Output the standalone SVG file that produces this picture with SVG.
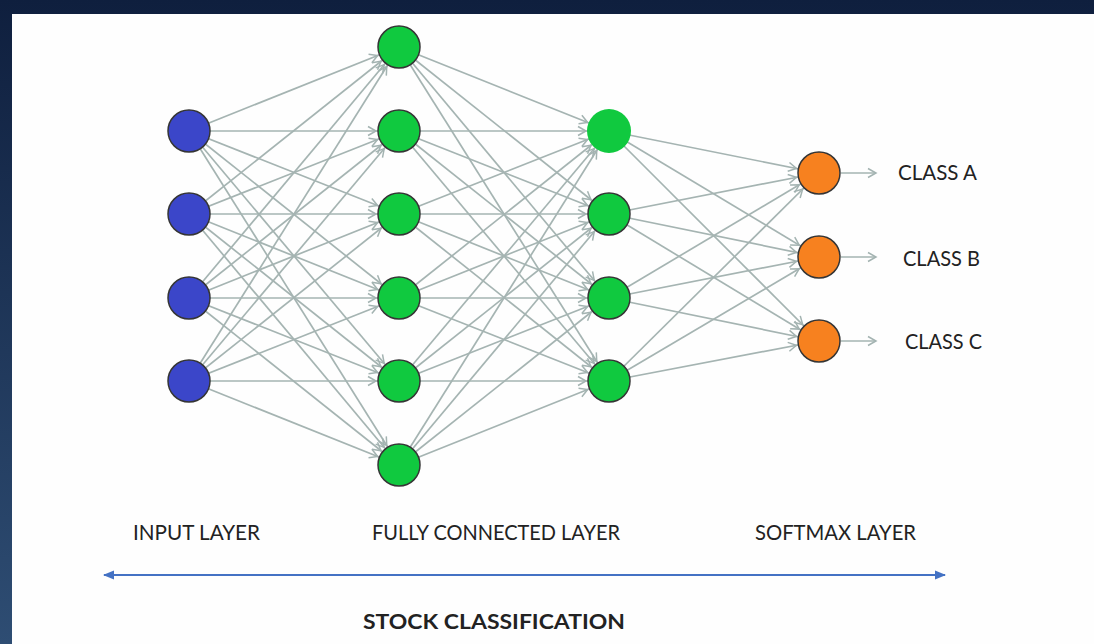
<svg xmlns="http://www.w3.org/2000/svg" width="1094" height="644" viewBox="0 0 1094 644">
<defs>
<linearGradient id="bg" x1="0" y1="0" x2="0" y2="1">
<stop offset="0" stop-color="#0f1f3e"/>
<stop offset="1" stop-color="#2e4d73"/>
</linearGradient>
<marker id="ah" markerUnits="userSpaceOnUse" markerWidth="40" markerHeight="20" refX="0" refY="0" orient="auto" style="overflow:visible">
<path d="M-31,-4.5 L-23,0 L-31,4.5" fill="none" stroke="#a3b3b1" stroke-width="1.5"/>
</marker>
<marker id="ah0" markerUnits="userSpaceOnUse" markerWidth="20" markerHeight="20" refX="0" refY="0" orient="auto" style="overflow:visible">
<path d="M-8,-4.5 L0,0 L-8,4.5" fill="none" stroke="#a3b3b1" stroke-width="1.5"/>
</marker>
<marker id="bh" markerUnits="userSpaceOnUse" markerWidth="20" markerHeight="20" refX="0" refY="0" orient="auto-start-reverse" style="overflow:visible">
<path d="M-10,-4.5 L1,0 L-10,4.5 Z" fill="#4472c4"/>
</marker>
<style>
.edge line{stroke:#a5b4b2;stroke-width:1.7;marker-end:url(#ah)}
.out line{stroke:#a5b4b2;stroke-width:1.7;marker-end:url(#ah0)}
.n{stroke:#353535;stroke-width:1.5}
.in{fill:#3b46c9}
.fc{fill:#10c93f}
.sm{fill:#f7811f}
.t{font-family:Lato,"Liberation Sans",sans-serif;font-size:21px;fill:#222}
</style>
</defs>
<rect width="1094" height="644" fill="url(#bg)"/>
<rect x="12" y="14" width="1082" height="630" fill="#fefefe"/>
<g id="connectors">
<g class="edge">
<line x1="189" y1="131" x2="399" y2="47"/><line x1="189" y1="131" x2="399" y2="131"/><line x1="189" y1="131" x2="399" y2="214"/><line x1="189" y1="131" x2="399" y2="298"/><line x1="189" y1="131" x2="399" y2="381"/><line x1="189" y1="131" x2="399" y2="465"/>
<line x1="189" y1="214" x2="399" y2="47"/><line x1="189" y1="214" x2="399" y2="131"/><line x1="189" y1="214" x2="399" y2="214"/><line x1="189" y1="214" x2="399" y2="298"/><line x1="189" y1="214" x2="399" y2="381"/><line x1="189" y1="214" x2="399" y2="465"/>
<line x1="189" y1="298" x2="399" y2="47"/><line x1="189" y1="298" x2="399" y2="131"/><line x1="189" y1="298" x2="399" y2="214"/><line x1="189" y1="298" x2="399" y2="298"/><line x1="189" y1="298" x2="399" y2="381"/><line x1="189" y1="298" x2="399" y2="465"/>
<line x1="189" y1="381" x2="399" y2="47"/><line x1="189" y1="381" x2="399" y2="131"/><line x1="189" y1="381" x2="399" y2="214"/><line x1="189" y1="381" x2="399" y2="298"/><line x1="189" y1="381" x2="399" y2="381"/><line x1="189" y1="381" x2="399" y2="465"/>
<line x1="399" y1="47" x2="609" y2="131"/><line x1="399" y1="47" x2="609" y2="214"/><line x1="399" y1="47" x2="609" y2="298"/><line x1="399" y1="47" x2="609" y2="381"/>
<line x1="399" y1="131" x2="609" y2="131"/><line x1="399" y1="131" x2="609" y2="214"/><line x1="399" y1="131" x2="609" y2="298"/><line x1="399" y1="131" x2="609" y2="381"/>
<line x1="399" y1="214" x2="609" y2="131"/><line x1="399" y1="214" x2="609" y2="214"/><line x1="399" y1="214" x2="609" y2="298"/><line x1="399" y1="214" x2="609" y2="381"/>
<line x1="399" y1="298" x2="609" y2="131"/><line x1="399" y1="298" x2="609" y2="214"/><line x1="399" y1="298" x2="609" y2="298"/><line x1="399" y1="298" x2="609" y2="381"/>
<line x1="399" y1="381" x2="609" y2="131"/><line x1="399" y1="381" x2="609" y2="214"/><line x1="399" y1="381" x2="609" y2="298"/><line x1="399" y1="381" x2="609" y2="381"/>
<line x1="399" y1="465" x2="609" y2="131"/><line x1="399" y1="465" x2="609" y2="214"/><line x1="399" y1="465" x2="609" y2="298"/><line x1="399" y1="465" x2="609" y2="381"/>
<line x1="609" y1="131" x2="819" y2="173"/><line x1="609" y1="131" x2="819" y2="257"/><line x1="609" y1="131" x2="819" y2="341"/>
<line x1="609" y1="214" x2="819" y2="173"/><line x1="609" y1="214" x2="819" y2="257"/><line x1="609" y1="214" x2="819" y2="341"/>
<line x1="609" y1="298" x2="819" y2="173"/><line x1="609" y1="298" x2="819" y2="257"/><line x1="609" y1="298" x2="819" y2="341"/>
<line x1="609" y1="381" x2="819" y2="173"/><line x1="609" y1="381" x2="819" y2="257"/><line x1="609" y1="381" x2="819" y2="341"/>
</g>
<g class="out">
<line x1="841" y1="173" x2="876" y2="173"/>
<line x1="841" y1="257" x2="876" y2="257"/>
<line x1="841" y1="341" x2="876" y2="341"/>
</g>
<line x1="104" y1="575" x2="945" y2="575" stroke="#4472c4" stroke-width="2.2" marker-start="url(#bh)" marker-end="url(#bh)"/>
</g>
<g id="input-1"><circle class="n in" cx="189" cy="131" r="21"/></g>
<g id="input-2"><circle class="n in" cx="189" cy="214" r="21"/></g>
<g id="input-3"><circle class="n in" cx="189" cy="298" r="21"/></g>
<g id="input-4"><circle class="n in" cx="189" cy="381" r="21"/></g>
<g id="fc1-1"><circle class="n fc" cx="399" cy="47" r="21"/></g>
<g id="fc1-2"><circle class="n fc" cx="399" cy="131" r="21"/></g>
<g id="fc1-3"><circle class="n fc" cx="399" cy="214" r="21"/></g>
<g id="fc1-4"><circle class="n fc" cx="399" cy="298" r="21"/></g>
<g id="fc1-5"><circle class="n fc" cx="399" cy="381" r="21"/></g>
<g id="fc1-6"><circle class="n fc" cx="399" cy="465" r="21"/></g>
<g id="fc2-1"><circle class="fc" cx="609" cy="131" r="22"/></g>
<g id="fc2-2"><circle class="n fc" cx="609" cy="214" r="21"/></g>
<g id="fc2-3"><circle class="n fc" cx="609" cy="298" r="21"/></g>
<g id="fc2-4"><circle class="n fc" cx="609" cy="381" r="21"/></g>
<g id="class-a"><circle class="n sm" cx="819" cy="173" r="21"/><text class="t" x="898" y="180" textLength="79" lengthAdjust="spacingAndGlyphs">CLASS A</text></g>
<g id="class-b"><circle class="n sm" cx="819" cy="257" r="21"/><text class="t" x="903" y="266" textLength="77" lengthAdjust="spacingAndGlyphs">CLASS B</text></g>
<g id="class-c"><circle class="n sm" cx="819" cy="341" r="21"/><text class="t" x="905" y="349" textLength="77" lengthAdjust="spacingAndGlyphs">CLASS C</text></g>
<g id="labels">
<text class="t" x="133" y="540" textLength="127" lengthAdjust="spacingAndGlyphs">INPUT LAYER</text>
<text class="t" x="372" y="540" textLength="248" lengthAdjust="spacingAndGlyphs">FULLY CONNECTED LAYER</text>
<text class="t" x="755" y="540" textLength="161" lengthAdjust="spacingAndGlyphs">SOFTMAX LAYER</text>
<text class="t" x="363" y="629" font-weight="bold" font-size="22" textLength="262" lengthAdjust="spacingAndGlyphs">STOCK CLASSIFICATION</text>
</g>
</svg>
